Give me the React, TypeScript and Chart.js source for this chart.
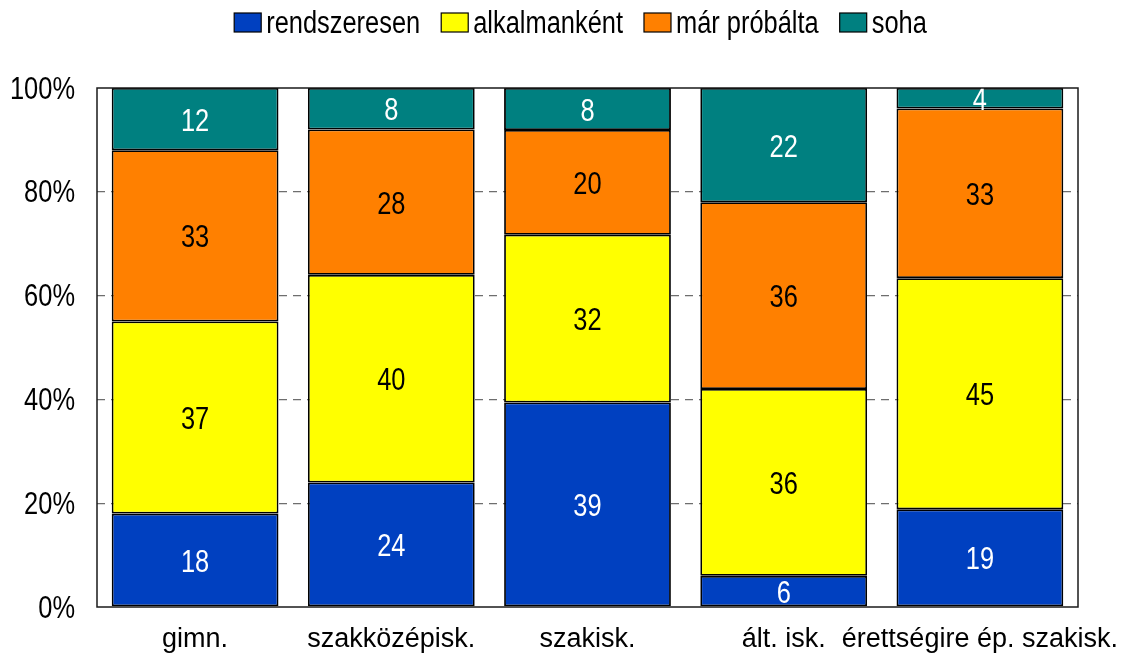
import React, { useEffect, useRef } from "react";
import { Chart, registerables } from "chart.js";

Chart.register(...registerables);

const categories = ["gimn.", "szakközépisk.", "szakisk.", "ált. isk.", "érettségire ép. szakisk."];
const seriesNames = ["rendszeresen", "alkalmanként", "már próbálta", "soha"];
const rendszeresen = [18, 24, 39, 6, 19];
const alkalmankent = [37, 40, 32, 36, 45];
const marProbalta = [33, 28, 20, 36, 33];
const soha = [12, 8, 8, 22, 4];
const yTickMin = 0;
const yTickMax = 100;
const yTickStep = 20;

const seriesValues = [rendszeresen, alkalmankent, marProbalta, soha];
const fillColors = ["#0040C0", "#FFFF00", "#FF8000", "#008080"];
const textColors = ["#FFFFFF", "#000000", "#000000", "#FFFFFF"];

const REGULAR = "'Liberation Sans', Arial, sans-serif";
const NARROW_SCALE = 0.82;
const NARROW_FONT = `31px ${REGULAR}`;

const totals = categories.map((_, i) => seriesValues.reduce((s, arr) => s + arr[i], 0));

function drawNarrow(ctx: CanvasRenderingContext2D, text: string, x: number, y: number, align: CanvasTextAlign) {
  ctx.save();
  ctx.translate(x, y);
  ctx.scale(NARROW_SCALE, 1);
  ctx.textAlign = align;
  ctx.textBaseline = "middle";
  ctx.fillText(text, 0, 0);
  ctx.restore();
}

const segmentLabelPlugin = {
  id: "segmentLabels",
  afterDatasetsDraw(chart: any) {
    const ctx = chart.ctx;
    ctx.save();
    ctx.font = NARROW_FONT;
    chart.data.datasets.forEach((ds: any, di: number) => {
      const meta = chart.getDatasetMeta(di);
      meta.data.forEach((el: any, i: number) => {
        const raw = ds.rawValues[i];
        const y = (el.y + el.base) / 2;
        ctx.fillStyle = ds.labelColor;
        drawNarrow(ctx, String(raw), el.x, y + 3, "center");
      });
    });
    // frame
    const a = chart.chartArea;
    ctx.strokeStyle = "#1a1a1a";
    ctx.lineWidth = 1.5;
    ctx.strokeRect(a.left, a.top, a.right - a.left, a.bottom - a.top);
    // y tick labels (narrow)
    const ys = chart.scales.y;
    ctx.fillStyle = "#000";
    ys.ticks.forEach((t: any) => {
      const py = ys.getPixelForValue(t.value);
      drawNarrow(ctx, `${t.value}%`, a.left - 22, py + 2, "right");
    });
    ctx.restore();
  },
};

const legendPlugin = {
  id: "customLegend",
  afterDraw(chart: any) {
    const ctx = chart.ctx;
    ctx.save();
    ctx.font = NARROW_FONT;
    const boxW = 27;
    const boxH = 19;
    const gapBoxText = 5;
    const gapItems = 21;
    const items = chart.data.datasets.map((ds: any) => ({
      label: ds.label,
      color: ds.backgroundColor,
      w: ctx.measureText(ds.label).width * NARROW_SCALE,
    }));
    const total = items.reduce((s: number, it: any) => s + boxW + gapBoxText + it.w, 0) + gapItems * (items.length - 1);
    const a = chart.chartArea;
    const cx = (a.left + a.right) / 2 - 7;
    let x = cx - total / 2;
    const yMid = 22.5;
    items.forEach((it: any) => {
      ctx.fillStyle = it.color;
      ctx.fillRect(x, yMid - boxH / 2, boxW, boxH);
      ctx.strokeStyle = "#000";
      ctx.lineWidth = 1.2;
      ctx.strokeRect(x, yMid - boxH / 2, boxW, boxH);
      ctx.fillStyle = "#000";
      drawNarrow(ctx, it.label, x + boxW + gapBoxText, yMid + 2, "left");
      x += boxW + gapBoxText + it.w + gapItems;
    });
    ctx.restore();
  },
};

export default function App() {
  const canvasRef = useRef<HTMLCanvasElement | null>(null);

  useEffect(() => {
    document.body.style.margin = "0";
    const canvas = canvasRef.current;
    if (!canvas) return;
    const datasets = seriesNames.map((name, si) => ({
      label: name,
      data: seriesValues[si].map((v, i) => (v / totals[i]) * 100),
      rawValues: seriesValues[si],
      labelColor: textColors[si],
      backgroundColor: fillColors[si],
      borderColor: "#000000",
      borderWidth: 1.8,
      borderSkipped: false,
      barPercentage: 0.85,
      categoryPercentage: 1.0,
    }));
    const chart = new Chart(canvas, {
      type: "bar",
      data: { labels: categories, datasets: datasets as any },
      options: {
        animation: false,
        responsive: true,
        maintainAspectRatio: false,
        layout: { padding: { top: 88, right: 52, left: 0, bottom: 0 } },
        plugins: {
          legend: { display: false },
          tooltip: { enabled: false },
        },
        scales: {
          x: {
            stacked: true,
            grid: { display: false, drawTicks: false },
            border: { display: false },
            ticks: {
              color: "#000",
              font: { family: REGULAR, size: 27 },
              padding: 16,
              autoSkip: false,
              maxRotation: 0,
              minRotation: 0,
            },
            afterFit(scale: any) {
              scale.height = 48;
              scale.paddingLeft = 0;
              scale.paddingRight = 0;
            },
          },
          y: {
            stacked: true,
            min: yTickMin,
            max: yTickMax,
            grid: {
              drawTicks: false,
              color: (c: any) =>
                c.tick && (c.tick.value === yTickMin || c.tick.value === yTickMax) ? "rgba(0,0,0,0)" : "#6e6e6e",
              lineWidth: 1.3,
            },
            border: { display: false, dash: [8, 6] },
            ticks: {
              display: false,
              stepSize: yTickStep,
            },
            afterFit(scale: any) {
              scale.width = 97;
              scale.paddingTop = 0;
              scale.paddingBottom = 0;
            },
          },
        },
      },
      plugins: [segmentLabelPlugin, legendPlugin],
    });
    return () => chart.destroy();
  }, []);

  return (
    <div style={{ width: "1130px", height: "655px", position: "relative" }}>
      <canvas ref={canvasRef} />
    </div>
  );
}
